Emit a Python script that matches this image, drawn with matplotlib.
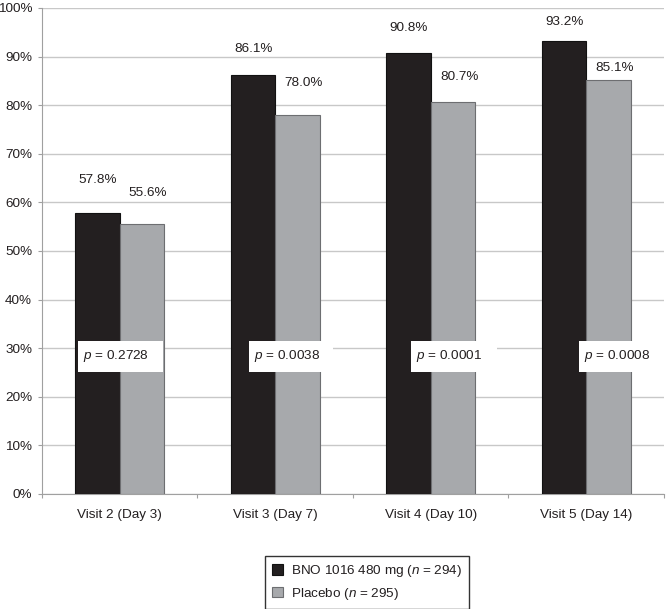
import matplotlib
matplotlib.use("Agg")
import matplotlib.pyplot as plt
from matplotlib.patches import Rectangle
import numpy as np

plt.rcParams['font.family'] = ['Liberation Sans', 'DejaVu Sans']
plt.rcParams['mathtext.fontset'] = 'custom'
plt.rcParams['mathtext.it'] = 'Liberation Sans:italic'
plt.rcParams['mathtext.rm'] = 'Liberation Sans'

# data
visits = ["Visit 2 (Day 3)", "Visit 3 (Day 7)", "Visit 4 (Day 10)", "Visit 5 (Day 14)"]
bno = [57.8, 86.1, 90.8, 93.2]
placebo = [55.6, 78.0, 80.7, 85.1]
p_values = ["0.2728", "0.0038", "0.0001", "0.0008"]
series_names = ["BNO 1016 480 mg ($n$ = 294)", "Placebo ($n$ = 295)"]

# label offsets above bar tops (points)
bno_label_off = [24, 19, 18, 14]
pl_label_off = [22, 23, 18, 9]
# p-value box extents in category units
box_left = [0.232, 1.329, 2.374, 3.452]
box_right = [0.781, 1.871, 2.929, 4.0]

black = "#231f20"
grey = "#a7a9ac"
text_col = "#231f20"

fig = plt.figure(figsize=(6.66, 6.09), dpi=100)
ax = fig.add_axes([0.063, 0.189, 0.934, 0.798])

x = np.arange(len(visits)) + 0.5
w = 0.285
ax.bar(x - w / 2, bno, width=w, color=black, edgecolor="#111111", linewidth=0.8, zorder=3,
       label=series_names[0])
ax.bar(x + w / 2, placebo, width=w, color=grey, edgecolor="#6d6e71", linewidth=0.8, zorder=3,
       label=series_names[1])

for i in range(len(visits)):
    ax.annotate(f"{bno[i]:.1f}%", (x[i] - w / 2, bno[i]), xytext=(0, bno_label_off[i]),
                textcoords="offset points", ha="center", va="center", fontsize=9.7, color=text_col)
    ax.annotate(f"{placebo[i]:.1f}%", (x[i] + w / 2, placebo[i]), xytext=(4.5, pl_label_off[i]),
                textcoords="offset points", ha="center", va="center", fontsize=9.7, color=text_col)
    # white p-value box
    ax.add_patch(Rectangle((box_left[i], 25.1), box_right[i] - box_left[i], 6.4,
                           facecolor="white", edgecolor="none", zorder=4))
    ax.text(box_left[i] + 0.033, 28.4, f"$p$ = {p_values[i]}", ha="left", va="center",
            fontsize=9.7, color=text_col, zorder=5)

ax.set_xlim(0, 4)
ax.set_ylim(0, 100)
ax.set_yticks(np.arange(0, 101, 10))
ax.set_yticklabels([f"{v}%" for v in range(0, 101, 10)], fontsize=9.7, color=text_col)
ax.yaxis.grid(True, color="#c8c8c8", linewidth=1.0, zorder=0)
ax.set_axisbelow(True)

ax.set_xticks([0, 1, 2, 3, 4])
ax.set_xticklabels([])
ax.set_xticks(x, minor=True)
ax.set_xticklabels(visits, minor=True, fontsize=9.7, color=text_col)
ax.tick_params(axis="x", which="major", length=3, color="#a0a0a0")
ax.tick_params(axis="x", which="minor", length=0, pad=11)
ax.tick_params(axis="y", length=3, color="#a0a0a0", pad=4)

for s in ["top", "right"]:
    ax.spines[s].set_visible(False)
ax.spines["left"].set_color("#a0a0a0")
ax.spines["bottom"].set_color("#a0a0a0")

leg = fig.legend(loc="center", bbox_to_anchor=(0.551, 0.0435), fontsize=9.7, frameon=True,
                 fancybox=False, edgecolor="black", handlelength=0.8, handleheight=0.8,
                 handletextpad=0.6, borderpad=0.5, labelspacing=0.5)
leg.get_frame().set_linewidth(1.0)
for t in leg.get_texts():
    t.set_color(text_col)

fig.savefig("out.png", dpi=100)
